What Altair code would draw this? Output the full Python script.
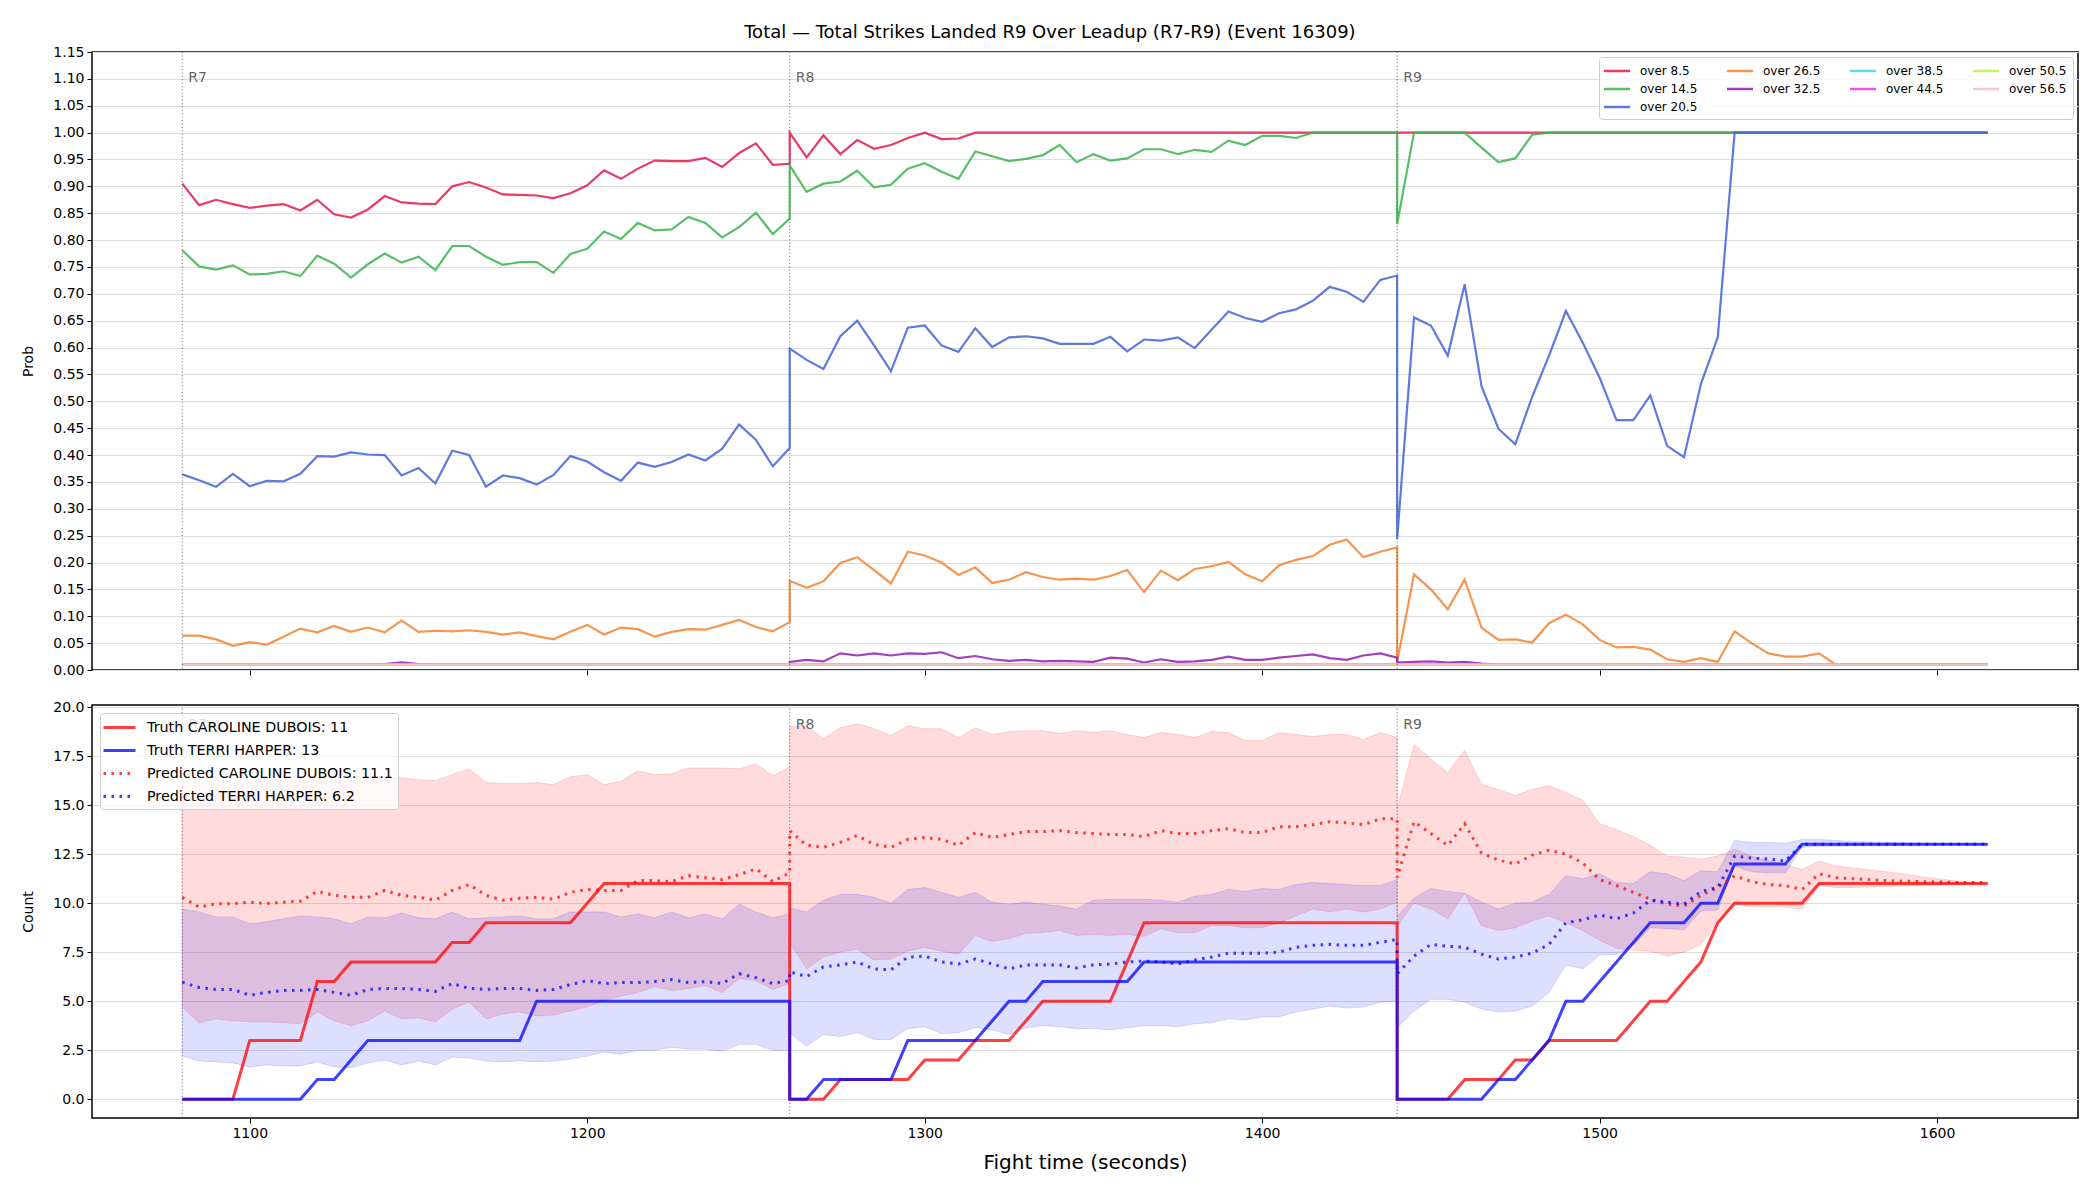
import altair as alt
import pandas as pd

# ---------------- sample times (5 s steps; each round restarts at its boundary) ----------------
times_r7 = list(range(1080, 1261, 5))   # 37
times_r8 = list(range(1260, 1441, 5))   # 37
times_r9 = list(range(1440, 1616, 5))   # 36
times = times_r7 + times_r8 + times_r9

round_names = ["R7", "R8", "R9"]
round_starts = [1080, 1260, 1440]

title_text = "Total \u2014 Total Strikes Landed R9 Over Leadup (R7-R9) (Event 16309)"

# ---------------- top panel: probability of "over X" ----------------
thr_labels = ["over 8.5", "over 14.5", "over 20.5", "over 26.5", "over 32.5",
              "over 38.5", "over 44.5", "over 50.5", "over 56.5"]
thr_colors = ["#e6194b", "#3cb44b", "#4363d8", "#f58231", "#911eb4",
              "#42d4f4", "#f032e6", "#bfef45", "#fabed4"]

p_over_8_5 = (
    [0.905, 0.865, 0.875, 0.867, 0.860, 0.864, 0.867, 0.855, 0.875, 0.848, 0.842, 0.857, 0.882,
     0.870, 0.868, 0.867, 0.900, 0.908, 0.898, 0.885, 0.884, 0.883, 0.878, 0.887, 0.902, 0.930,
     0.914, 0.933, 0.948, 0.947, 0.947, 0.953, 0.936, 0.962, 0.980, 0.940, 0.942]
    + [1.0, 0.954, 0.995, 0.960, 0.986, 0.970, 0.977, 0.990, 1.0, 0.988, 0.989, 1.0]
    + [1.0] * 25
    + [1.0] * 36
)
p_over_14_5 = (
    [0.781, 0.751, 0.745, 0.753, 0.736, 0.737, 0.742, 0.733, 0.771, 0.756, 0.730, 0.755, 0.775,
     0.758, 0.769, 0.744, 0.789, 0.789, 0.769, 0.754, 0.759, 0.759, 0.739, 0.774, 0.784, 0.816,
     0.802, 0.832, 0.818, 0.820, 0.843, 0.832, 0.805, 0.824, 0.851, 0.811, 0.840]
    + [0.939, 0.890, 0.905, 0.909, 0.929, 0.898, 0.903, 0.933, 0.943, 0.927, 0.914, 0.965, 0.956,
       0.947, 0.951, 0.958, 0.977, 0.945, 0.960, 0.948, 0.952, 0.969, 0.969, 0.960, 0.968, 0.964,
       0.985, 0.977, 0.994, 0.994, 0.990, 1.0, 1.0, 1.0, 1.0, 1.0, 1.0]
    + [0.830, 1.0, 1.0, 1.0, 1.0, 0.972, 0.945, 0.952, 0.996] + [1.0] * 27
)
p_over_20_5 = (
    [0.364, 0.353, 0.341, 0.365, 0.342, 0.352, 0.351, 0.365, 0.398, 0.397, 0.405, 0.401, 0.400,
     0.362, 0.376, 0.347, 0.408, 0.400, 0.341, 0.362, 0.357, 0.345, 0.363, 0.398, 0.388, 0.368,
     0.352, 0.386, 0.378, 0.387, 0.401, 0.390, 0.412, 0.457, 0.428, 0.379, 0.413]
    + [0.598, 0.577, 0.560, 0.621, 0.650, 0.604, 0.556, 0.637, 0.641, 0.604, 0.592, 0.636, 0.601,
       0.619, 0.621, 0.617, 0.607, 0.607, 0.607, 0.620, 0.593, 0.615, 0.613, 0.619, 0.599, 0.633,
       0.667, 0.655, 0.648, 0.664, 0.671, 0.687, 0.713, 0.704, 0.685, 0.726, 0.734]
    + [0.244, 0.656, 0.641, 0.585, 0.718, 0.528, 0.449, 0.420, 0.508, 0.585, 0.668, 0.609, 0.544,
       0.465, 0.465, 0.511, 0.417, 0.396, 0.532, 0.619] + [1.0] * 16
)
p_over_26_5 = (
    [0.064, 0.064, 0.057, 0.045, 0.052, 0.047, 0.062, 0.077, 0.070, 0.082, 0.071, 0.079, 0.070,
     0.092, 0.071, 0.073, 0.072, 0.074, 0.071, 0.066, 0.070, 0.063, 0.057, 0.071, 0.084, 0.066,
     0.079, 0.076, 0.062, 0.071, 0.076, 0.075, 0.084, 0.093, 0.080, 0.072, 0.089]
    + [0.166, 0.153, 0.165, 0.199, 0.210, 0.186, 0.161, 0.220, 0.213, 0.200, 0.177, 0.191, 0.162,
       0.168, 0.182, 0.173, 0.168, 0.170, 0.168, 0.175, 0.186, 0.145, 0.185, 0.167, 0.188, 0.193,
       0.201, 0.178, 0.165, 0.195, 0.205, 0.212, 0.233, 0.243, 0.210, 0.220, 0.228]
    + [0.015, 0.178, 0.150, 0.113, 0.168, 0.079, 0.056, 0.057, 0.051, 0.087, 0.103, 0.085, 0.056,
       0.042, 0.043, 0.038, 0.020, 0.015, 0.022, 0.015, 0.072, 0.050, 0.031, 0.025, 0.025, 0.031]
    + [0.01] * 10
)
p_over_32_5 = (
    [0.01] * 12 + [0.011, 0.014, 0.011] + [0.01] * 22
    + [0.015, 0.019, 0.016, 0.031, 0.027, 0.031, 0.027, 0.031, 0.030, 0.033, 0.022, 0.026, 0.020,
       0.017, 0.019, 0.016, 0.017, 0.016, 0.015, 0.023, 0.021, 0.014, 0.020, 0.015, 0.016, 0.019,
       0.025, 0.019, 0.019, 0.023, 0.026, 0.029, 0.022, 0.019, 0.027, 0.031, 0.023]
    + [0.014, 0.015, 0.016, 0.014, 0.015, 0.012] + [0.01] * 30
)
p_over_38_5 = [0.01] * 110
p_over_44_5 = [0.01] * 110
p_over_50_5 = [0.01] * 110
p_over_56_5 = [0.01] * 110

prob_series = [p_over_8_5, p_over_14_5, p_over_20_5, p_over_26_5, p_over_32_5,
               p_over_38_5, p_over_44_5, p_over_50_5, p_over_56_5]

# ---------------- bottom panel: counts ----------------
series_names = ["Truth CAROLINE DUBOIS: 11", "Truth TERRI HARPER: 13",
                "Predicted CAROLINE DUBOIS: 11.1", "Predicted TERRI HARPER: 6.2"]

truth_caroline = (
    [0, 0, 0, 0, 3, 3, 3, 3, 6, 6, 7, 7, 7, 7, 7, 7, 8, 8, 9, 9, 9, 9, 9, 9, 10] + [11] * 12
    + [0, 0, 0, 1, 1, 1, 1, 1, 2, 2, 2, 3, 3, 3, 4, 5, 5, 5, 5, 5, 7] + [9] * 16
    + [0, 0, 0, 0, 1, 1, 1, 2, 2, 3, 3, 3, 3, 3, 4, 5, 5, 6, 7, 9, 10, 10, 10, 10, 10] + [11] * 11
)
truth_terri = (
    [0] * 8 + [1, 1, 2] + [3] * 10 + [5] * 16
    + [0, 0, 1, 1, 1, 1, 1, 3, 3, 3, 3, 3, 4, 5, 5, 6, 6, 6, 6, 6, 6] + [7] * 16
    + [0] * 6 + [1, 1, 2, 3, 5, 5, 6, 7, 8, 9, 9, 9, 10, 10, 12, 12, 12, 12] + [13] * 12
)
pred_caroline = (
    [10.3, 9.8, 9.97, 9.97, 10.05, 9.98, 10.05, 10.1, 10.6, 10.4, 10.3, 10.3, 10.65, 10.4, 10.3,
     10.15, 10.65, 10.95, 10.4, 10.15, 10.25, 10.3, 10.2, 10.55, 10.7, 10.65, 10.65, 11.15, 11.15,
     11.1, 11.4, 11.3, 11.2, 11.45, 11.75, 11.1, 11.55]
    + [13.7, 12.95, 12.85, 13.1, 13.45, 13.0, 12.85, 13.25, 13.35, 13.25, 12.95, 13.6, 13.35, 13.5,
       13.65, 13.65, 13.7, 13.6, 13.55, 13.5, 13.5, 13.4, 13.7, 13.55, 13.55, 13.7, 13.8, 13.6,
       13.6, 13.9, 13.9, 14.0, 14.15, 14.1, 14.0, 14.3, 14.3]
    + [11.3, 14.15, 13.55, 12.95, 14.05, 12.55, 12.2, 12.0, 12.45, 12.7, 12.5, 12.05, 11.2, 10.9,
       10.55, 10.2, 9.95, 9.85, 10.4, 10.8, 11.4, 11.1, 10.95, 10.9, 10.7, 11.5, 11.3, 11.25, 11.2,
       11.15, 11.12, 11.1, 11.08, 11.06, 11.05, 11.05]
)
pred_terri = (
    [5.97, 5.7, 5.6, 5.6, 5.3, 5.45, 5.55, 5.55, 5.6, 5.45, 5.3, 5.6, 5.65, 5.65, 5.6, 5.5, 5.9,
     5.65, 5.6, 5.65, 5.65, 5.55, 5.6, 5.85, 6.05, 5.9, 5.95, 5.95, 6.0, 6.1, 5.95, 6.0, 5.9, 6.4,
     6.2, 5.9, 6.05]
    + [6.5, 6.25, 6.75, 6.85, 7.0, 6.65, 6.6, 7.25, 7.3, 7.0, 6.9, 7.15, 6.9, 6.65, 6.85, 6.85,
       6.85, 6.7, 6.85, 6.9, 7.0, 7.05, 7.0, 6.9, 7.1, 7.25, 7.45, 7.45, 7.45, 7.5, 7.75, 7.85, 7.9,
       7.85, 7.85, 8.0, 8.15]
    + [6.4, 7.3, 7.9, 7.8, 7.75, 7.4, 7.15, 7.25, 7.45, 7.9, 9.0, 9.15, 9.4, 9.2, 9.5, 10.15, 10.05,
       9.95, 10.6, 10.8, 12.4, 12.3, 12.25, 12.15] + [13.0] * 12
)
band_caroline_hi = (
    [16.0, 16.05, 16.1, 16.15, 16.1, 16.2, 16.3, 16.35, 16.4, 16.3, 16.25, 16.4, 16.45, 16.4, 16.3,
     16.25, 16.55, 16.85, 16.15, 16.1, 16.1, 16.15, 16.05, 16.45, 16.55, 16.05, 16.2, 16.75, 16.55,
     16.6, 16.9, 16.9, 16.9, 16.85, 17.1, 16.5, 16.95]
    + [19.0, 19.05, 18.4, 18.95, 19.15, 18.9, 18.55, 19.05, 18.9, 18.9, 18.45, 18.95, 18.6, 18.75,
       18.8, 18.8, 18.65, 18.8, 18.7, 18.8, 18.6, 18.45, 18.7, 18.6, 18.45, 18.75, 18.7, 18.3, 18.3,
       18.7, 18.6, 18.5, 18.6, 18.6, 18.35, 18.7, 18.45]
    + [14.8, 18.1, 17.35, 16.65, 17.8, 16.05, 15.8, 15.5, 15.8, 16.0, 15.65, 15.25, 14.05, 13.75,
       13.4, 12.95, 12.4, 12.35, 12.25, 12.4, 12.75, 12.4, 12.15, 12.0, 11.7, 12.15, 11.9, 11.8,
       11.7, 11.6, 11.5, 11.35, 11.25, 11.15, 11.05, 11.0]
)
band_caroline_lo = (
    [4.7, 3.9, 4.1, 4.0, 3.95, 3.95, 3.9, 3.85, 4.45, 4.0, 3.75, 4.0, 4.5, 4.1, 4.15, 3.95, 4.6,
     4.95, 4.1, 4.35, 4.45, 4.25, 4.3, 4.5, 4.7, 5.05, 5.25, 5.45, 5.75, 5.55, 5.65, 5.8, 5.45,
     6.15, 6.05, 5.6, 5.9]
    + [8.0, 6.65, 7.25, 7.5, 7.65, 7.1, 7.15, 7.55, 7.75, 7.55, 7.4, 8.35, 8.05, 8.2, 8.45, 8.5,
       8.6, 8.35, 8.4, 8.35, 8.4, 8.3, 8.7, 8.5, 8.5, 8.85, 8.85, 8.75, 8.75, 9.0, 9.35, 9.7, 9.55,
       9.7, 9.55, 9.7, 10.05]
    + [8.85, 10.0, 9.7, 9.2, 10.5, 8.85, 8.6, 8.75, 9.1, 9.35, 9.0, 8.6, 8.1, 7.7, 7.6, 7.55, 7.3,
       7.5, 7.9, 9.0, 9.95, 9.8, 9.8, 9.8, 9.7, 10.9, 10.8, 10.8, 10.82, 10.85, 10.88, 10.9, 10.92,
       10.95, 10.97, 11.0]
)
band_terri_hi = (
    [9.7, 9.55, 9.3, 9.3, 8.95, 9.05, 9.2, 9.35, 9.3, 9.2, 8.95, 9.3, 9.25, 9.5, 9.25, 9.2, 9.55,
     9.2, 9.25, 9.3, 9.35, 9.2, 9.2, 9.55, 9.55, 9.55, 9.3, 9.45, 9.25, 9.55, 9.25, 9.45, 9.2,
     9.95, 9.55, 9.25, 9.45]
    + [9.75, 9.55, 10.15, 10.45, 10.45, 10.3, 10.0, 10.7, 10.8, 10.55, 10.3, 10.55, 10.05, 9.95,
       10.05, 9.95, 9.85, 9.7, 10.15, 10.2, 10.2, 10.2, 10.15, 10.05, 10.35, 10.45, 10.7, 10.6,
       10.75, 10.7, 10.95, 11.05, 11.0, 10.95, 10.9, 10.9, 11.2]
    + [9.35, 10.25, 10.75, 10.6, 10.5, 10.05, 9.7, 10.0, 10.05, 10.45, 11.4, 11.25, 11.5, 11.05,
       11.0, 11.6, 11.5, 11.15, 11.65, 11.6, 13.2, 13.1, 13.1, 13.05, 13.25, 13.25, 13.2, 13.15,
       13.12, 13.1, 13.08, 13.06, 13.05, 13.03, 13.02, 13.0]
)
band_terri_lo = (
    [2.2, 1.95, 1.9, 1.85, 1.65, 1.75, 1.7, 1.7, 1.9, 1.65, 1.6, 1.85, 2.0, 1.75, 1.95, 1.75, 2.15,
     2.1, 1.95, 1.9, 1.95, 1.9, 1.95, 2.05, 2.2, 2.4, 2.3, 2.5, 2.5, 2.65, 2.55, 2.55, 2.45, 2.8,
     2.8, 2.5, 2.5]
    + [3.4, 2.7, 3.3, 3.2, 3.4, 3.05, 3.05, 3.6, 3.7, 3.35, 3.4, 3.65, 3.55, 3.3, 3.65, 3.75, 3.7,
       3.6, 3.6, 3.55, 3.65, 3.75, 3.75, 3.7, 3.85, 3.9, 4.1, 4.05, 4.2, 4.2, 4.45, 4.6, 4.75, 4.65,
       4.7, 4.95, 5.0]
    + [3.65, 4.5, 5.1, 5.1, 4.95, 4.6, 4.45, 4.5, 4.75, 5.45, 6.85, 6.65, 7.35, 7.4, 7.85, 8.75,
       8.7, 8.65, 9.6, 9.65, 11.9, 11.6, 11.55, 11.55, 12.85, 12.9, 12.9, 12.92, 12.93, 12.94,
       12.95, 12.96, 12.97, 12.98, 12.99, 13.0]
)

# ---------------- tables ----------------
top_rows = []
for name, vals in zip(thr_labels, prob_series):
    for i, (t, v) in enumerate(zip(times, vals)):
        top_rows.append({"t": t, "p": v, "thr": name, "idx": i})
top_df = pd.DataFrame(top_rows)

line_rows = []
for name, vals in zip(series_names, [truth_caroline, truth_terri, pred_caroline, pred_terri]):
    for i, (t, v) in enumerate(zip(times, vals)):
        line_rows.append({"t": t, "v": v, "series": name, "idx": i})
line_df = pd.DataFrame(line_rows)

band_df = pd.DataFrame({"t": times, "idx": list(range(len(times))),
                        "c_lo": band_caroline_lo, "c_hi": band_caroline_hi,
                        "t_lo": band_terri_lo, "t_hi": band_terri_hi})
rounds_df = pd.DataFrame({"t": round_starts, "label": round_names})

FONT = "DejaVu Sans"
W = 1986
x_ticks = [1100, 1200, 1300, 1400, 1500, 1600]
x_scale = alt.Scale(domain=[1053.25, 1641.75], nice=False, zero=False)

x_top = alt.X("t:Q", scale=x_scale,
              axis=alt.Axis(values=x_ticks, labels=False, title=None, grid=False, domain=False))
x_bot = alt.X("t:Q", scale=x_scale,
              axis=alt.Axis(values=x_ticks, format="d", title="Fight time (seconds)", grid=False,
                            domain=False, titleFontSize=20, titlePadding=12, titleFontWeight="normal"))

y_top_ticks = [round(0.05 * i, 2) for i in range(24)]
y_top = alt.Y("p:Q", scale=alt.Scale(domain=[0, 1.15], nice=False, zero=False),
              axis=alt.Axis(values=y_top_ticks, format=".2f", title="Prob", grid=True, domain=False,
                            titlePadding=17))

# ---- top panel ----
# Vega arranges a 4-column legend so that this domain order shows, row by row:
# 8.5 26.5 38.5 50.5 / 14.5 32.5 44.5 56.5 / 20.5  (the matplotlib column-major layout)
top_legend_order = ["over 8.5", "over 50.5", "over 44.5", "over 26.5",
                    "over 14.5", "over 56.5", "over 38.5", "over 32.5", "over 20.5"]
top_legend_colors = [thr_colors[thr_labels.index(n)] for n in top_legend_order]

top_layers = []
for name in thr_labels:
    top_layers.append(
        alt.Chart(top_df).transform_filter(alt.datum.thr == name)
        .mark_line(strokeWidth=2.2, opacity=0.85)
        .encode(
            x=x_top, y=y_top,
            color=alt.Color("thr:N",
                            scale=alt.Scale(domain=top_legend_order, range=top_legend_colors),
                            legend=alt.Legend(title=None, orient="top-right", offset=5, columns=4,
                                              symbolType="M-2,0H2", symbolSize=169,
                                              symbolStrokeWidth=2.5, symbolOpacity=0.85,
                                              symbolOffset=4,
                                              labelFontSize=12, labelFont=FONT, labelOffset=15,
                                              columnPadding=24, rowPadding=4, padding=6,
                                              labelLimit=300,
                                              fillColor="rgba(255,255,255,0.8)", strokeColor="#cccccc",
                                              cornerRadius=3)),
            order="idx:Q",
        )
    )

rule_top = alt.Chart(rounds_df).mark_rule(color="#555555", strokeDash=[1.2, 2.2], strokeWidth=1, opacity=0.8).encode(x=x_top)
text_top = alt.Chart(rounds_df).mark_text(align="left", baseline="middle", dx=6, fontSize=14, font=FONT,
                                          color="#666666").encode(x=x_top, y=alt.value(26), text="label:N")

top = alt.layer(*top_layers, rule_top, text_top).properties(width=W, height=618)

# ---- bottom panel ----
y_bot_scale = alt.Scale(domain=[-0.9575, 20.1075], nice=False, zero=False)
y_bot_axis = alt.Axis(values=[0, 2.5, 5, 7.5, 10, 12.5, 15, 17.5, 20], format=".1f", title="Count",
                      grid=True, domain=False, titlePadding=17)

band_c = alt.Chart(band_df).mark_area(color="red", fillOpacity=0.14, stroke="red", strokeOpacity=0.14,
                                      strokeWidth=1).encode(
    x=x_bot, y=alt.Y("c_lo:Q", scale=y_bot_scale, axis=y_bot_axis), y2="c_hi:Q")
band_t = alt.Chart(band_df).mark_area(color="blue", fillOpacity=0.13, stroke="blue", strokeOpacity=0.13,
                                      strokeWidth=1).encode(
    x=x_bot, y=alt.Y("t_lo:Q", scale=y_bot_scale, axis=y_bot_axis), y2="t_hi:Q")

bot_legend = alt.Legend(title=None, orient="top-left", offset=8, symbolType="M-2,0H2", symbolSize=256,
                        symbolStrokeWidth=3, symbolOffset=5, labelFontSize=14.3, labelFont=FONT,
                        labelOffset=18, labelLimit=400, rowPadding=6, padding=5,
                        fillColor="rgba(255,255,255,0.8)", strokeColor="#cccccc", cornerRadius=3)
line_layers = []
for name in series_names:
    line_layers.append(
        alt.Chart(line_df).transform_filter(alt.datum.series == name).mark_line().encode(
            x=x_bot,
            y=alt.Y("v:Q", scale=y_bot_scale, axis=y_bot_axis),
            color=alt.Color("series:N", scale=alt.Scale(domain=series_names,
                                                        range=["#ff0000", "#0000ff", "#ff0000", "#0000ff"]),
                            legend=bot_legend),
            strokeDash=alt.StrokeDash("series:N", scale=alt.Scale(domain=series_names,
                                                                  range=[[1, 0], [1, 0], [2.5, 5.5], [2.5, 5.5]]),
                                      legend=bot_legend),
            opacity=alt.Opacity("series:N", scale=alt.Scale(domain=series_names, range=[0.75, 0.75, 0.6, 0.6]),
                                legend=bot_legend),
            strokeWidth=alt.StrokeWidth("series:N", scale=alt.Scale(domain=series_names, range=[3, 3, 2.6, 2.6]),
                                        legend=bot_legend),
            order="idx:Q",
        )
    )

rule_bot = alt.Chart(rounds_df).mark_rule(color="#555555", strokeDash=[1.2, 2.2], strokeWidth=1, opacity=0.8).encode(x=x_bot)
text_bot = alt.Chart(rounds_df).mark_text(align="left", baseline="middle", dx=6, fontSize=14, font=FONT,
                                          color="#666666").encode(x=x_bot, y=alt.value(20), text="label:N")

bottom = alt.layer(band_c, band_t, *line_layers, rule_bot, text_bot).properties(width=W, height=413)

chart = (
    alt.vconcat(top, bottom, spacing=21)
    .resolve_scale(color="independent", strokeDash="independent", opacity="independent",
                   strokeWidth="independent")
    .resolve_legend(color="independent", strokeDash="independent", opacity="independent",
                    strokeWidth="independent")
    .properties(
        title=alt.TitleParams(title_text, fontSize=18, font=FONT, fontWeight="normal", anchor="middle",
                              offset=2, color="black"),
        padding={"left": 21, "top": 24, "right": 10, "bottom": 10},
        background="white",
    )
    .configure_view(stroke="black", strokeWidth=1.5)
    .configure_axis(labelFont=FONT, titleFont=FONT, labelFontSize=14, titleFontSize=14,
                    titleFontWeight="normal", labelColor="black", titleColor="black",
                    tickColor="black", tickSize=5, tickWidth=1, labelPadding=3,
                    gridColor="#dddddd", gridWidth=1)
    .configure_legend(labelColor="black")
)

chart.save("out.html", embed_options={"renderer": "svg", "actions": False})
